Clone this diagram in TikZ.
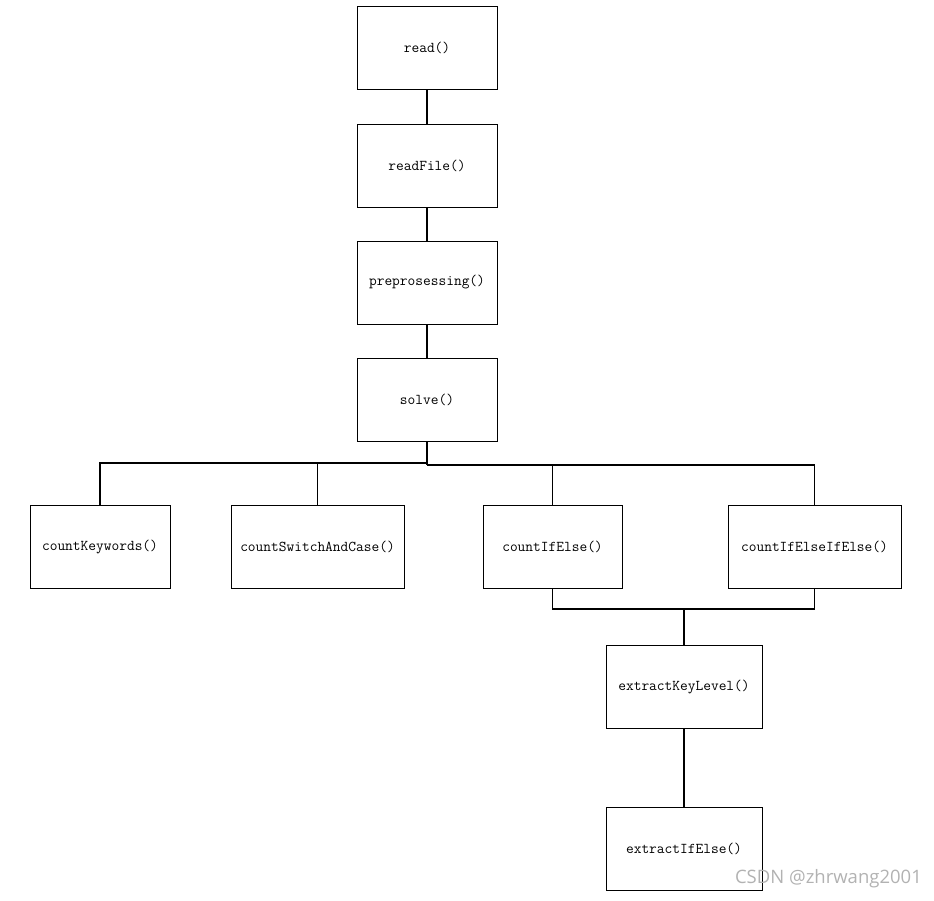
\documentclass[tikz,border=0pt]{standalone}
\usepackage{fontspec}
\setmainfont{Liberation Serif}
\newfontfamily\wmfont{Open Sans}
\begin{document}
\begin{tikzpicture}[x=1pt,y=-1pt,
  fbox/.style={draw=black, line width=1pt, minimum height=83pt, inner sep=0pt, font=\ttfamily\fontsize{15}{17}\selectfont, text=black},
  link/.style={draw=black, line width=1.1pt}]
\useasboundingbox (0,0) rectangle (934,900);
\node[fbox, minimum width=140pt] (read) at (427,48) {read()};
\node[fbox, minimum width=140pt] (readfile) at (427,165.5) {readFile()};
\node[fbox, minimum width=140pt] (prep) at (427,282.5) {preprosessing()};
\node[fbox, minimum width=140pt] (solve) at (427,399.5) {solve()};
\node[fbox, minimum width=140pt] (ck) at (100,546.5) {countKeywords()};
\node[fbox, minimum width=173pt] (cs) at (317.5,546.5) {countSwitchAndCase()};
\node[fbox, minimum width=139pt] (cie) at (552.5,546.5) {countIfElse()};
\node[fbox, minimum width=173pt] (cieie) at (814.5,546.5) {countIfElseIfElse()};
\node[fbox, minimum width=156pt] (ekl) at (684,686.5) {extractKeyLevel()};
\node[fbox, minimum width=156pt] (eie) at (684,848.5) {extractIfElse()};
\node[text=black!30, font=\wmfont\fontsize{18.5}{20}\selectfont, anchor=east, inner sep=0pt] (wm) at (922,879) {CSDN @zhrwang2001};
\coordinate (busL) at (427,463);
\coordinate (busR) at (427,465);
\coordinate (busB) at (684,609);
\draw[link] (read.south) -- (readfile.north);
\draw[link] (readfile.south) -- (prep.north);
\draw[link] (prep.south) -- (solve.north);
\draw[link] (solve.south) -- (busR);
\draw[link] (ck.north) |- (busL);
\draw[link] (cs.north) |- (busL);
\draw[link] (cie.north) |- (busR);
\draw[link] (cieie.north) |- (busR);
\draw[link] (cie.south) |- (busB);
\draw[link] (cieie.south) |- (busB);
\draw[link] (busB) -- (ekl.north);
\draw[link] (ekl.south) -- (eie.north);
\end{tikzpicture}
\end{document}
